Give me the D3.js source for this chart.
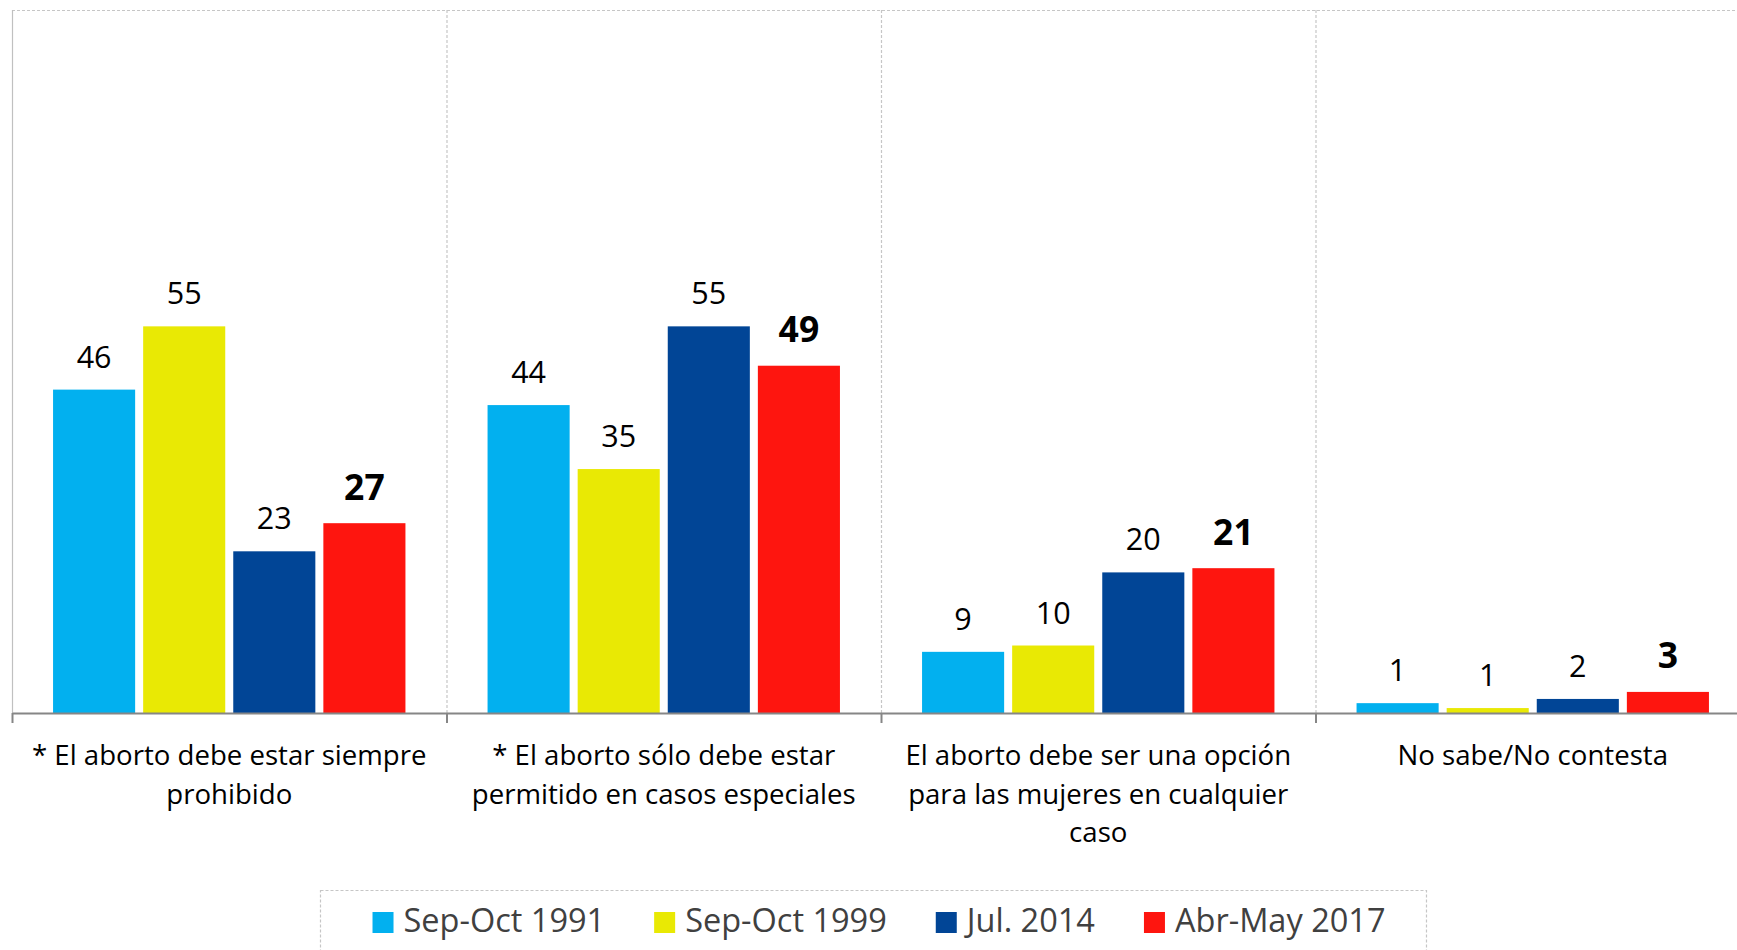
<!DOCTYPE html>
<html>
<head>
<meta charset="utf-8">
<script src="https://cdn.jsdelivr.net/npm/d3@7"></script>
<style>
  html, body { margin: 0; padding: 0; background: #fff; overflow: hidden; }
  svg { display: block; }
</style>
</head>
<body>
<svg id="chart" width="1737" height="950"></svg>
<script>
// ---------- data ----------
const categories = [
  "* El aborto debe estar siempre prohibido",
  "* El aborto sólo debe estar permitido en casos especiales",
  "El aborto debe ser una opción para las mujeres en cualquier caso",
  "No sabe/No contesta"
];
const categoryLines = [
  ["* El aborto debe estar siempre", "prohibido"],
  ["* El aborto sólo debe estar", "permitido en casos especiales"],
  ["El aborto debe ser una opción", "para las mujeres en cualquier", "caso"],
  ["No sabe/No contesta"]
];
const seriesNames = ["Sep-Oct 1991", "Sep-Oct 1999", "Jul. 2014", "Abr-May 2017"];
const sepOct1991 = [46, 43.8, 8.7, 1.4];
const sepOct1999 = [55, 34.7, 9.6, 0.7];
const jul2014    = [23, 55, 20, 2];
const abrMay2017 = [27, 49.4, 20.6, 3];
const seriesValues = [sepOct1991, sepOct1999, jul2014, abrMay2017];
const seriesColors = ["#02b0ef", "#e9e904", "#014596", "#fe150f"];
const boldSeries = [false, false, false, true];

// ---------- layout ----------
const W = 1737, H = 950;
const plot = { left: 12, right: 1750, top: 10, bottom: 713 };
const svg = d3.select("#chart");
const font = "'Open Sans', Lato, sans-serif";

const x0 = d3.scaleBand().domain(categories).range([plot.left, plot.right]).padding(0);
const bw = x0.bandwidth();
const x1 = d3.scaleBand().domain(d3.range(seriesNames.length))
  .range([bw * 0.0945, bw * 0.9055]).paddingInner(0.089).paddingOuter(0);
const y = d3.scaleLinear().domain([0, 100]).range([plot.bottom, plot.top]);

// plot area border (dashed top) and left line
svg.append("line")
  .attr("x1", plot.left).attr("x2", plot.right)
  .attr("y1", plot.top + 0.5).attr("y2", plot.top + 0.5)
  .attr("stroke", "#c6c6c6").attr("stroke-width", 1.2).attr("stroke-dasharray", "3,2");
svg.append("line")
  .attr("x1", plot.left + 0.5).attr("x2", plot.left + 0.5)
  .attr("y1", plot.top).attr("y2", plot.bottom)
  .attr("stroke", "#c0c0c0").attr("stroke-width", 1.2);

// vertical dashed separators between categories
svg.selectAll("line.sep").data(categories.slice(1)).join("line")
  .attr("class", "sep")
  .attr("x1", d => x0(d) + 0.5).attr("x2", d => x0(d) + 0.5)
  .attr("y1", plot.top).attr("y2", plot.bottom)
  .attr("stroke", "#c6c6c6").attr("stroke-width", 1.2).attr("stroke-dasharray", "3,2");

// bars
const groups = svg.selectAll("g.cat").data(categories).join("g")
  .attr("class", "cat")
  .attr("transform", d => `translate(${x0(d)},0)`);

groups.each(function(cat, ci) {
  const g = d3.select(this);
  const rows = seriesValues.map((vals, si) => ({ si, v: vals[ci] }));
  g.selectAll("rect").data(rows).join("rect")
    .attr("x", d => x1(d.si))
    .attr("width", x1.bandwidth())
    .attr("y", d => y(d.v))
    .attr("height", d => y(0) - y(d.v))
    .attr("fill", d => seriesColors[d.si]);
  g.selectAll("text.val").data(rows).join("text")
    .attr("class", "val")
    .attr("x", d => x1(d.si) + x1.bandwidth() / 2)
    .attr("y", d => y(d.v) - (boldSeries[d.si] ? 23.5 : 22))
    .attr("text-anchor", "middle")
    .attr("font-family", font)
    .attr("font-size", d => boldSeries[d.si] ? 35.5 : 30.5)
    .attr("font-weight", d => boldSeries[d.si] ? 700 : 400)
    .attr("fill", "#000")
    .text(d => d3.format(".0f")(d.v));
});

// x axis
const xAxis = d3.axisBottom(x0).tickSize(0).tickFormat("");
const axG = svg.append("g").attr("transform", `translate(0,${plot.bottom})`).call(xAxis);
axG.select(".domain").attr("stroke", "#868686").attr("stroke-width", 2.2);
svg.selectAll("line.tick").data(categories.concat(["__end"])).join("line")
  .attr("class", "tick")
  .attr("x1", (d, i) => i < categories.length ? x0(d) + 0.5 : plot.right)
  .attr("x2", (d, i) => i < categories.length ? x0(d) + 0.5 : plot.right)
  .attr("y1", plot.bottom).attr("y2", plot.bottom + 10)
  .attr("stroke", "#868686").attr("stroke-width", 2);

// category labels
groups.each(function(cat, ci) {
  const t = d3.select(this).append("text")
    .attr("text-anchor", "middle")
    .attr("font-family", font)
    .attr("font-size", 27.6)
    .attr("fill", "#000");
  categoryLines[ci].forEach((ln, li) => {
    t.append("tspan").attr("x", bw / 2).attr("y", 765 + li * 38.5).text(ln);
  });
});

// legend
const lg = svg.append("g");
lg.append("rect")
  .attr("x", 320.5).attr("y", 890.5).attr("width", 1106).attr("height", 80)
  .attr("fill", "none").attr("stroke", "#c6c6c6").attr("stroke-width", 1.2)
  .attr("stroke-dasharray", "3,2");
const items = lg.selectAll("g.item").data(seriesNames).join("g").attr("class", "item");
items.append("rect")
  .attr("width", 21).attr("height", 21).attr("y", 912)
  .attr("fill", (d, i) => seriesColors[i]);
items.append("text")
  .attr("x", 31).attr("y", 932)
  .attr("font-family", font).attr("font-size", 32.5)
  .attr("fill", "#404040")
  .text(d => d);
const widths = [];
items.each(function() { widths.push(this.getBBox().width); });
const gap = 49;
const total = d3.sum(widths) + gap * (widths.length - 1);
let cx = 879 - total / 2;
items.attr("transform", (d, i) => { const tx = cx; cx += widths[i] + gap; return `translate(${tx},0)`; });
</script>
</body>
</html>
